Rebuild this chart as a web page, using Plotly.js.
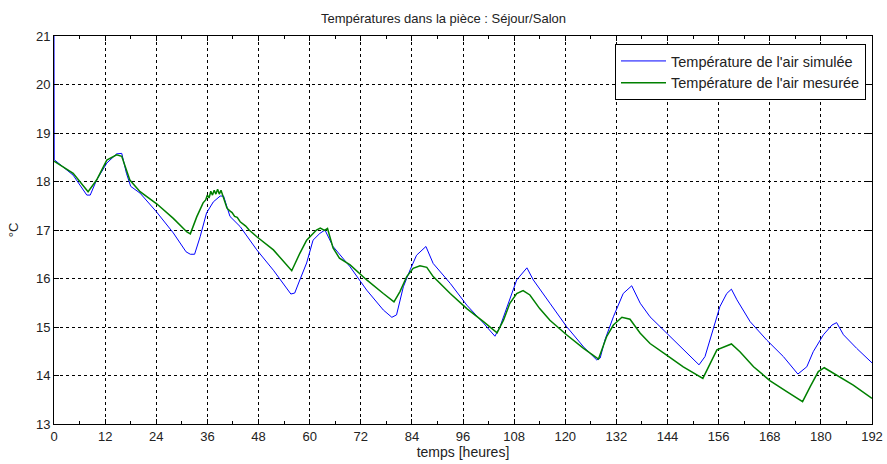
<!DOCTYPE html>
<html>
<head>
<meta charset="utf-8">
<script src="https://cdn.plot.ly/plotly-3.0.1.min.js"></script>
<style>html,body{margin:0;padding:0;background:#fff;}#chart{width:887px;height:464px;}</style>
</head>
<body>
<div id="chart"></div>
<script>
// Simulated air temperature (blue)
const simT = [0, 0.05, 4.5, 7.7, 8.5, 10, 12.4, 14.7, 15.9, 17, 18, 20.2, 24, 28, 31, 32, 33, 34.3, 35.8, 37.4, 39, 39.8, 41.3, 43.7, 47.6, 51.5, 55.6, 56.5, 57.7, 59.3, 60.8, 62.4, 63.6, 65.5, 69.5, 73.4, 77.3, 79.3, 80.4, 82, 83.6, 85.1, 87.3, 89, 93, 96.9, 100.8, 103.5, 104.7, 106.3, 108.6, 111, 112.5, 116.4, 120.3, 124.3, 127.4, 128.2, 129.3, 131.3, 133.6, 135.6, 137.6, 139.9, 143.8, 147.7, 151.4, 152.8, 154.8, 156.3, 157.9, 159, 160.3, 163.4, 167.3, 171.2, 174.6, 176.7, 178.2, 180.6, 182.6, 183.7, 185.3, 188.4, 192];
const simV = [21, 18.45, 18.13, 17.72, 17.72, 18.03, 18.38, 18.57, 18.58, 18.17, 17.9, 17.76, 17.38, 16.94, 16.55, 16.5, 16.5, 16.86, 17.35, 17.58, 17.7, 17.7, 17.28, 17.07, 16.59, 16.17, 15.68, 15.7, 15.97, 16.32, 16.79, 16.93, 17.0, 16.66, 16.24, 15.76, 15.35, 15.2, 15.25, 15.83, 16.18, 16.48, 16.66, 16.31, 15.9, 15.45, 15.08, 14.81, 15.01, 15.42, 15.97, 16.22, 15.97, 15.49, 15.01, 14.59, 14.32, 14.36, 14.73, 15.21, 15.69, 15.85, 15.49, 15.21, 14.87, 14.53, 14.22, 14.39, 15.01, 15.42, 15.69, 15.78, 15.56, 15.11, 14.73, 14.39, 14.03, 14.18, 14.49, 14.84, 15.04, 15.09, 14.84, 14.56, 14.26];

// Measured air temperature (green), with the visible sensor jitter read by hand
const mesT = [0, 4.5, 8, 10, 12.4, 14.7, 15.9, 17.8, 20.2, 24.1, 28, 31.2, 32, 33.5, 35, 35.6, 36, 36.4, 36.8, 37.2, 37.6, 38, 38.4, 38.8, 39.2, 39.6, 40, 40.6, 41.2, 41.8, 42.4, 43, 43.7, 44.4, 45, 45.8, 47.6, 51.5, 55.4, 55.8, 57.7, 59.3, 61.6, 62.5, 63.5, 64.2, 65.5, 67, 69.5, 73.4, 77.3, 79.8, 81.2, 82.8, 84.3, 85.9, 87.5, 89, 93, 96.9, 100.8, 104, 105.5, 107, 108.6, 110.1, 111.7, 114, 116.4, 120.3, 124.3, 126.6, 127.8, 129.7, 131.3, 133.3, 135.2, 137.6, 139.9, 143.8, 147.7, 152.3, 153.6, 155.6, 159, 161, 164.2, 168.1, 172, 175.7, 177.5, 179.4, 180.8, 183.7, 187.6, 192];
const mesV = [18.42, 18.17, 17.79, 18.03, 18.44, 18.55, 18.52, 18.03, 17.79, 17.54, 17.24, 16.96, 16.92, 17.27, 17.56, 17.62, 17.72, 17.66, 17.8, 17.72, 17.82, 17.74, 17.84, 17.74, 17.82, 17.72, 17.6, 17.45, 17.4, 17.36, 17.28, 17.26, 17.17, 17.12, 17.08, 17.0, 16.86, 16.59, 16.19, 16.16, 16.52, 16.79, 17.0, 17.04, 16.99, 17.03, 16.63, 16.42, 16.28, 15.97, 15.69, 15.52, 15.73, 16.04, 16.21, 16.26, 16.23, 16.04, 15.69, 15.38, 15.11, 14.88, 15.14, 15.49, 15.69, 15.75, 15.66, 15.38, 15.14, 14.84, 14.56, 14.42, 14.34, 14.8, 15.04, 15.2, 15.16, 14.87, 14.66, 14.42, 14.18, 13.94, 14.18, 14.53, 14.65, 14.49, 14.18, 13.89, 13.67, 13.46, 13.77, 14.08, 14.16, 14.01, 13.8, 13.53];

const xTicks = [0, 12, 24, 36, 48, 60, 72, 84, 96, 108, 120, 132, 144, 156, 168, 180, 192];
const yTicks = [13, 14, 15, 16, 17, 18, 19, 20, 21];

const titleText = 'Températures dans la pièce : Séjour/Salon';
const xTitle = 'temps [heures]';
const yTitle = '°C';
const simName = "Température de l'air simulée";
const mesName = "Température de l'air mesurée";

const FONT = '"Liberation Sans", Arial, sans-serif';

const traces = [
  {x: simT, y: simV, type: 'scatter', mode: 'lines', name: simName,
   line: {color: '#0000ff', width: 1}},
  {x: mesT, y: mesV, type: 'scatter', mode: 'lines', name: mesName,
   line: {color: '#008000', width: 1.5}}
];

const axisCommon = {
  showgrid: true, gridcolor: '#000', gridwidth: 1, griddash: '3px,3px',
  ticks: 'inside', ticklen: 5, tickcolor: '#000', tickwidth: 1,
  showline: true, linecolor: '#000', linewidth: 1, mirror: 'ticks',
  zeroline: false, tickfont: {family: FONT, size: 13, color: '#222'}
};

const layout = {
  width: 887, height: 464,
  margin: {l: 54, r: 15, t: 36, b: 40},
  paper_bgcolor: '#fff', plot_bgcolor: '#fff',
  font: {family: FONT, size: 13, color: '#222'},
  title: {text: titleText, font: {family: FONT, size: 13, color: '#222'},
          x: 0.5, xanchor: 'center', y: 1 - 18/464, yref: 'container', yanchor: 'middle'},
  xaxis: Object.assign({}, axisCommon, {
    range: [0, 192], tickvals: xTicks, ticktext: xTicks.map(String),
    minor: {dtick: 6, tick0: 0, ticks: 'inside', ticklen: 3, tickcolor: '#000', showgrid: false},
    title: {text: xTitle, font: {family: FONT, size: 14, color: '#222'}, standoff: 3}
  }),
  yaxis: Object.assign({}, axisCommon, {
    range: [13, 21], tickvals: yTicks, ticktext: yTicks.map(String),
    title: {text: yTitle, font: {family: FONT, size: 13, color: '#222'}, standoff: 14}
  }),
  showlegend: true,
  legend: {x: (866-54)/818, xanchor: 'right', y: 1 - 8/388, yanchor: 'top',
           bgcolor: '#fff', bordercolor: '#000', borderwidth: 1,
           font: {family: FONT, size: 14.5, color: '#222'}, itemwidth: 45,
           tracegroupgap: 0}
};

Plotly.newPlot('chart', traces, layout, {displayModeBar: false, staticPlot: true});
</script>
</body>
</html>
